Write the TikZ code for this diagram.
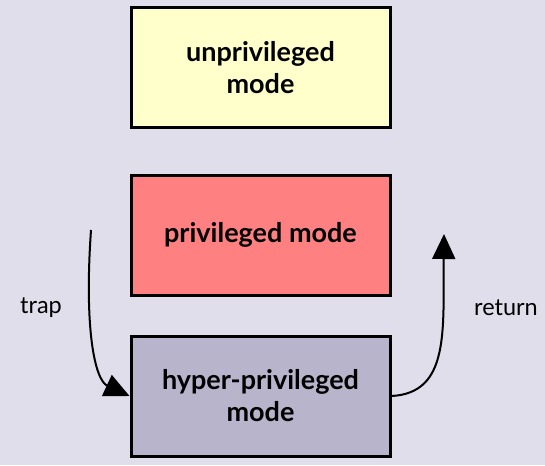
\documentclass[tikz,border=0pt]{standalone}
\usepackage{fontspec}
\setmainfont{Lato}
\usetikzlibrary{arrows.meta}
\definecolor{bgcol}{RGB}{224,222,234}
\definecolor{usercol}{RGB}{255,255,204}
\definecolor{privcol}{RGB}{255,128,128}
\definecolor{hypercol}{RGB}{184,180,204}
\tikzset{
  modebox/.style={draw=black, line width=3pt, minimum width=259pt, minimum height=120pt,
    align=center, font=\fontsize{27}{32}\selectfont\bfseries, inner sep=0pt},
  flow/.style={line width=2pt, -{Triangle[length=25pt,width=23pt]}},
  lbl/.style={font=\fontsize{23.5}{26}\selectfont}
}
\begin{document}
\begin{tikzpicture}[x=1pt,y=-1pt]
  \fill[bgcol] (0,0) rectangle (545,465);
  \useasboundingbox (0,0) rectangle (545,465);
  \node[modebox, fill=usercol] (user) at (260.5,68) {unprivileged\\mode};
  \node[modebox, fill=privcol] (priv) at (260.5,235) {privileged mode};
  \node[modebox, fill=hypercol] (hyper) at (260.5,396) {hyper-privileged\\mode};
  \coordinate (trapstart) at (91,230);
  \coordinate (retend) at (444,234);
  \draw[flow] (trapstart) .. controls (84,330) and (95,380) .. (hyper.west);
  \draw[flow] (hyper.east) .. controls (450,393) and (443,330) .. (retend);
  \node[lbl] (trap) at (41,308) {trap};
  \node[lbl] (ret) at (506,308) {return};
\end{tikzpicture}
\end{document}
